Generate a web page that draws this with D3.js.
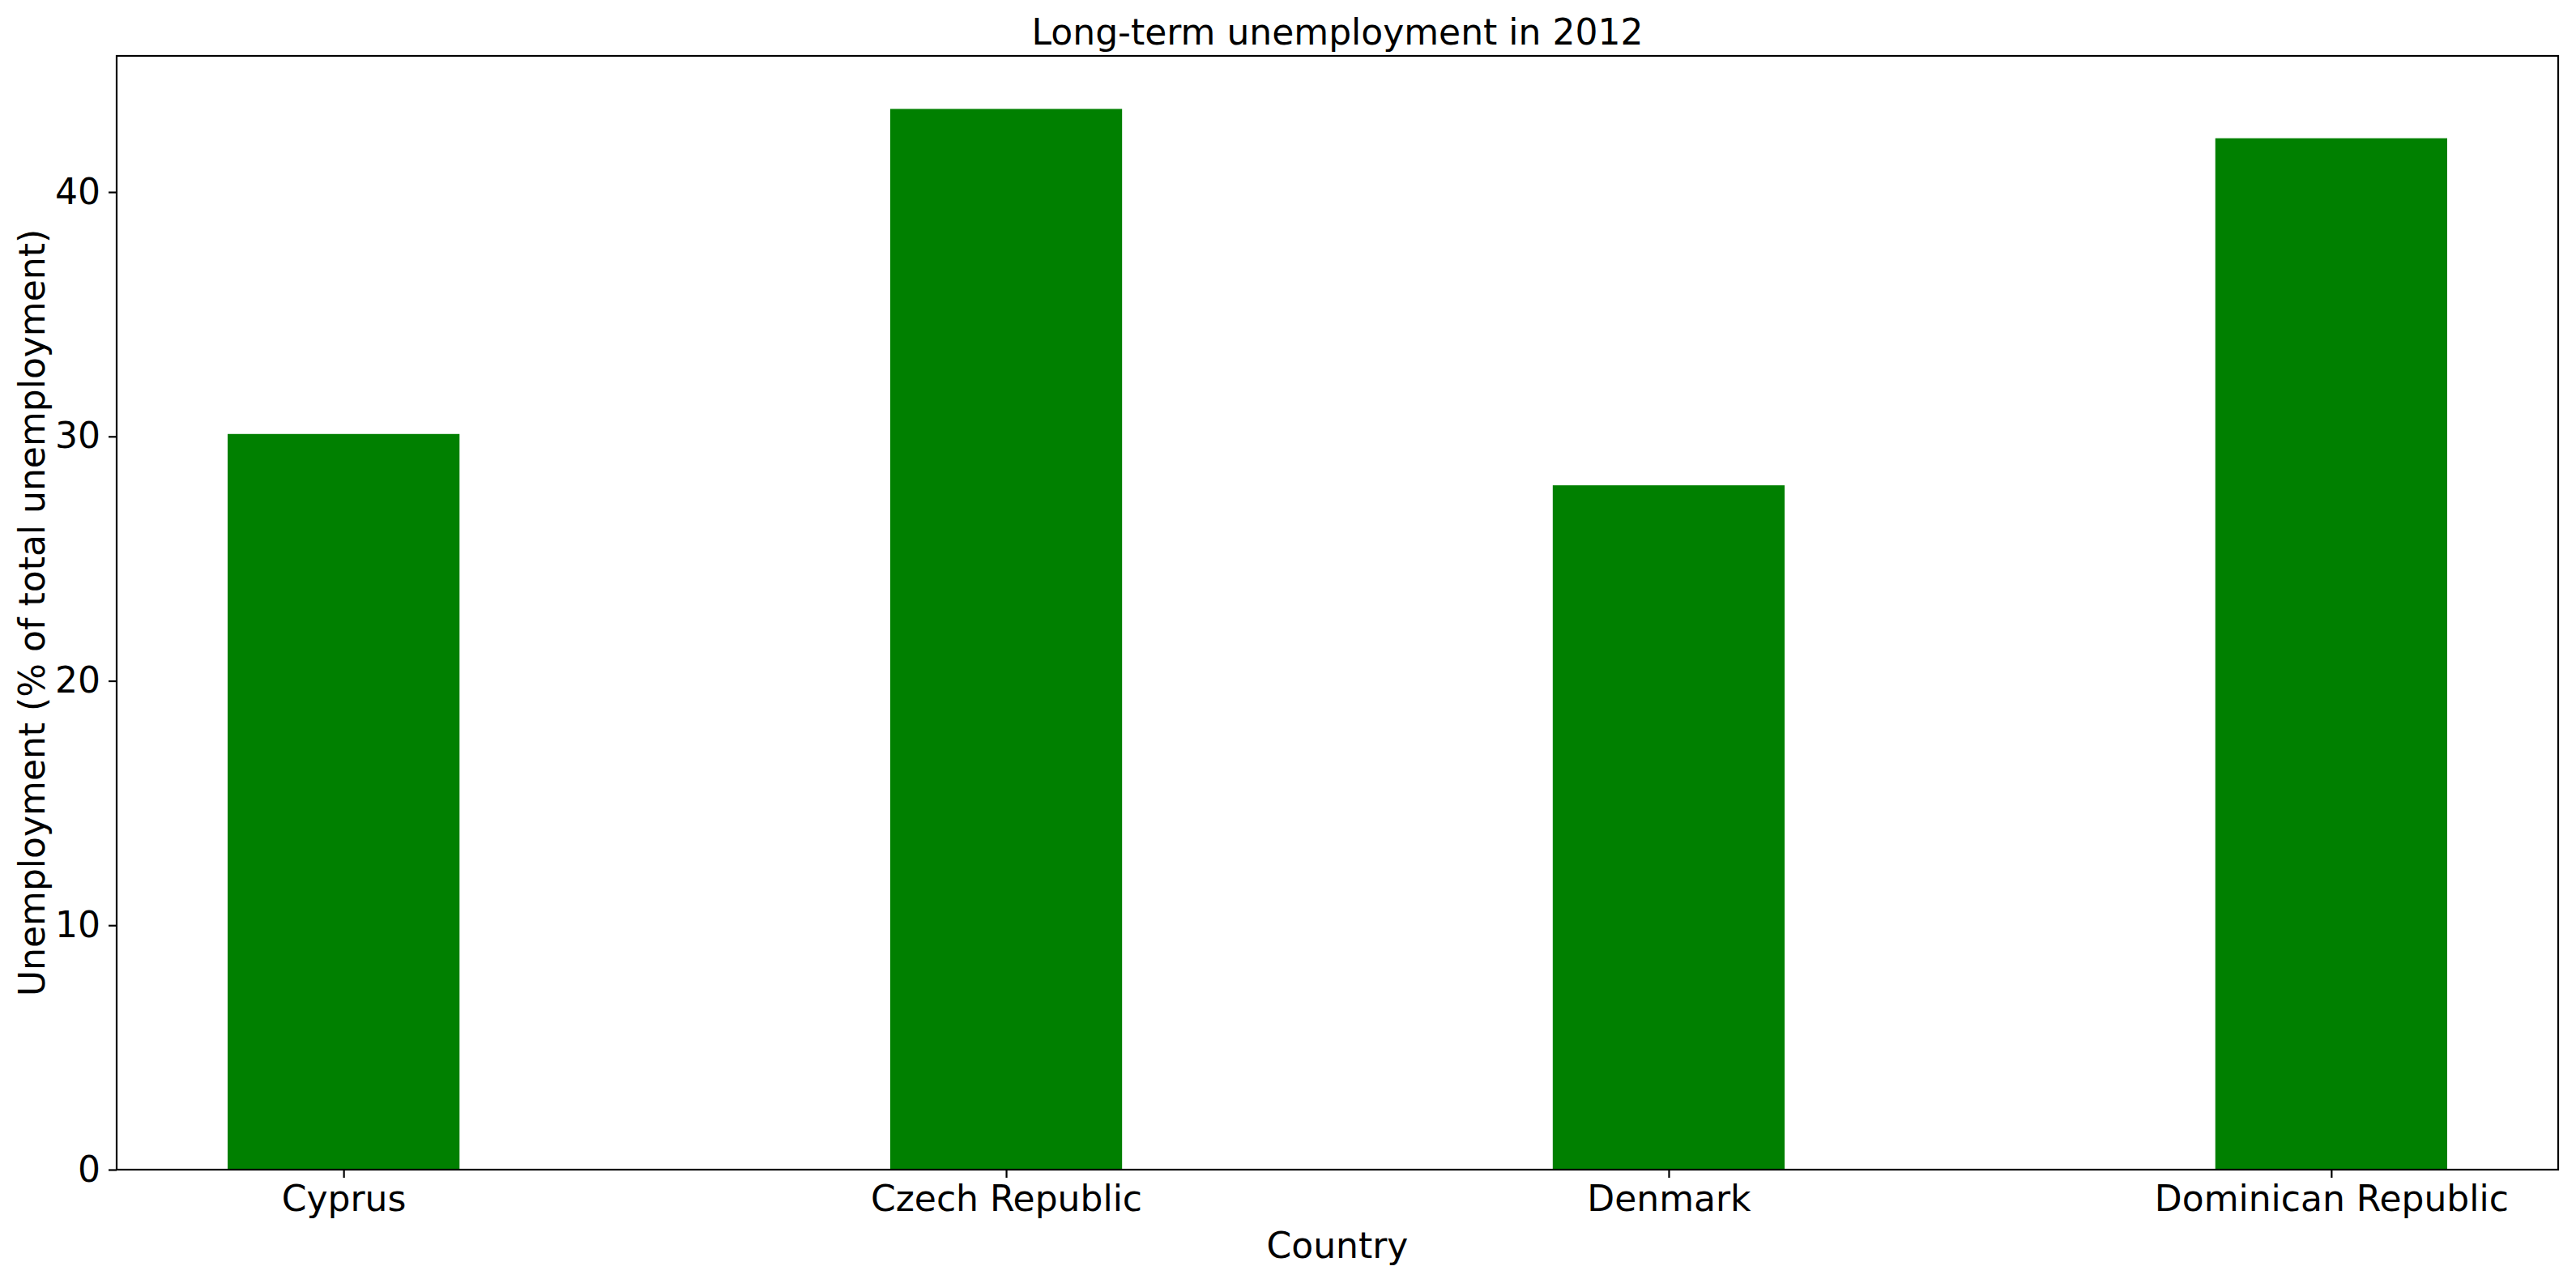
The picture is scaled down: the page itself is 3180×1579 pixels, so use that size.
<!DOCTYPE html>
<html>
<head>
<meta charset="utf-8">
<script src="https://cdn.jsdelivr.net/npm/d3@7"></script>
<style>
  body { margin: 0; background: #fff; }
  text { font-family: "DejaVu Sans", sans-serif; fill: #000; }
</style>
</head>
<body>
<svg id="chart" width="3180" height="1579"></svg>
<script>
const countries = ["Cyprus", "Czech Republic", "Denmark", "Dominican Republic"];
const values = [30.1, 43.4, 28.0, 42.2];
const yTicks = [0, 10, 20, 30, 40];

const W = 3180, H = 1579;
const m = { left: 144, right: 3158, top: 69, bottom: 1444 };
const barW = 0.35;

const svg = d3.select("#chart");

const x = d3.scaleLinear()
  .domain([-barW / 2 - 0.05 * (3 + barW), 3 + barW / 2 + 0.05 * (3 + barW)])
  .range([m.left, m.right]);
const y = d3.scaleLinear()
  .domain([0, d3.max(values) * 1.05])
  .range([m.bottom, m.top]);

svg.selectAll("rect.bar")
  .data(values)
  .join("rect")
  .attr("class", "bar")
  .attr("x", (d, i) => x(i - barW / 2))
  .attr("width", (d, i) => x(i + barW / 2) - x(i - barW / 2))
  .attr("y", d => y(d))
  .attr("height", d => y(0) - y(d))
  .attr("fill", "#008000");

// axes
const xAxis = d3.axisBottom(x)
  .tickValues(d3.range(countries.length))
  .tickFormat(i => countries[i])
  .tickSize(10).tickPadding(10);
const yAxis = d3.axisLeft(y)
  .tickValues(yTicks)
  .tickSize(10).tickPadding(10);

const gx = svg.append("g").attr("transform", `translate(0,${m.bottom})`).call(xAxis);
const gy = svg.append("g").attr("transform", `translate(${m.left},0)`).call(yAxis);
[gx, gy].forEach(g => {
  g.select(".domain").remove();
  g.selectAll(".tick line").attr("stroke", "#000").attr("stroke-width", 2.2);
  g.selectAll(".tick text").style("font-size", "44px");
});

// frame
svg.append("rect")
  .attr("x", m.left).attr("y", m.top)
  .attr("width", m.right - m.left).attr("height", m.bottom - m.top)
  .attr("fill", "none").attr("stroke", "#000").attr("stroke-width", 2.2);

svg.append("text")
  .attr("x", (m.left + m.right) / 2).attr("y", 39)
  .attr("text-anchor", "middle").attr("dominant-baseline", "central")
  .style("font-size", "44px")
  .text("Long-term unemployment in 2012");

svg.append("text")
  .attr("x", (m.left + m.right) / 2).attr("y", 1537)
  .attr("text-anchor", "middle").attr("dominant-baseline", "central")
  .style("font-size", "44px")
  .text("Country");

svg.append("text")
  .attr("transform", `translate(39,${(m.top + m.bottom) / 2}) rotate(-90)`)
  .attr("text-anchor", "middle").attr("dominant-baseline", "central")
  .style("font-size", "44px")
  .text("Unemployment (% of total unemployment)");
</script>
</body>
</html>
